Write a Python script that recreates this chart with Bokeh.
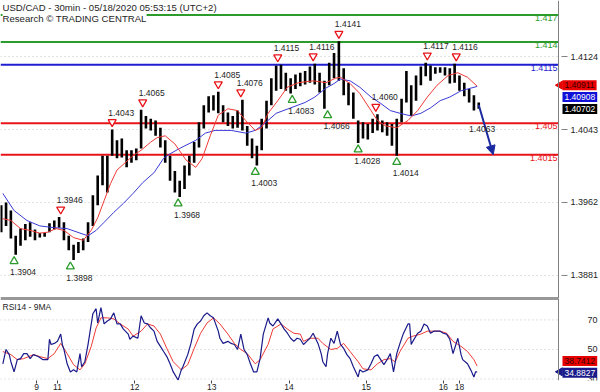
from bokeh.plotting import figure
from bokeh.layouts import column
from bokeh.models import Range1d, FixedTicker, Span, Label, Arrow, NormalHead
from bokeh.core.properties import value
from bokeh.embed import file_html
from bokeh.resources import INLINE

# ---------------- data ----------------
title_1 = "USD/CAD - 30min - 05/18/2020 05:53:15 (UTC+2)"
title_2 = "Research \u00a9 TRADING CENTRAL"
rsi_title = "RSI14 - 9MA"

# 30-min bars; bar 0 = Mon 11 May 00:00. Candles sampled every 3 bars from bar -35
first_bar = -35
bar_step = 3
high = [1.3959, 1.3962, 1.3953, 1.3925, 1.3933, 1.3938, 1.3940, 1.3932, 1.3928, 1.3928,
        1.3939, 1.3942, 1.3946, 1.3940, 1.3925, 1.3915, 1.3918, 1.3922, 1.3940, 1.3970,
        1.3992, 1.4014, 1.4014, 1.4043, 1.4031, 1.4033, 1.4020, 1.4020, 1.4022, 1.4065,
        1.4058, 1.4055, 1.4053, 1.4045, 1.4031, 1.4014, 1.3997, 1.3986, 1.4003, 1.4014,
        1.4029, 1.4051, 1.4070, 1.4080, 1.4081, 1.4085, 1.4070, 1.4062, 1.4058, 1.4064,
        1.4076, 1.4047, 1.4033, 1.4025, 1.4055, 1.4075, 1.4100, 1.4114, 1.4115, 1.4106,
        1.4100, 1.4104, 1.4106, 1.4108, 1.4113, 1.4116, 1.4106, 1.4097, 1.4117, 1.4128,
        1.4141, 1.4111, 1.4095, 1.4084, 1.4053, 1.4051, 1.4049, 1.4055, 1.4060, 1.4053,
        1.4051, 1.4049, 1.4055, 1.4077, 1.4108, 1.4092, 1.4103, 1.4113, 1.4117, 1.4114,
        1.4112, 1.4112, 1.4112, 1.4111, 1.4116, 1.4103, 1.4095, 1.4088, 1.4081, 1.4073]
low = [1.3929, 1.3936, 1.3922, 1.3904, 1.3914, 1.3920, 1.3924, 1.3920, 1.3923, 1.3924,
       1.3929, 1.3932, 1.3934, 1.3920, 1.3909, 1.3898, 1.3906, 1.3909, 1.3918, 1.3936,
       1.3959, 1.3981, 1.3973, 1.4014, 1.4011, 1.4012, 1.4001, 1.4006, 1.4009, 1.4022,
       1.4044, 1.4042, 1.4036, 1.4023, 1.4006, 1.3986, 1.3973, 1.3968, 1.3977, 1.3992,
       1.4006, 1.4023, 1.4044, 1.4062, 1.4064, 1.4061, 1.4051, 1.4047, 1.4044, 1.4045,
       1.4042, 1.4025, 1.4011, 1.4003, 1.4020, 1.4044, 1.4070, 1.4086, 1.4088, 1.4086,
       1.4083, 1.4088, 1.4091, 1.4093, 1.4095, 1.4093, 1.4084, 1.4066, 1.4092, 1.4100,
       1.4097, 1.4081, 1.4070, 1.4055, 1.4028, 1.4033, 1.4032, 1.4039, 1.4042, 1.4040,
       1.4036, 1.4025, 1.4014, 1.4051, 1.4073, 1.4058, 1.4075, 1.4092, 1.4102, 1.4097,
       1.4105, 1.4106, 1.4103, 1.4094, 1.4095, 1.4086, 1.4080, 1.4073, 1.4064, 1.4066]
last_close = 1.40702

red_ma_bar = [-34, -29, -23, -17, -11, -6, -1, 4, 10, 16,
              21, 25, 29, 33, 37, 42, 47, 52, 58, 62,
              67, 73, 80, 86, 90, 95, 100, 106, 112, 117,
              123, 127, 131, 137, 143, 150, 159, 167, 173, 176,
              182, 188, 195, 199, 204, 211, 218, 224, 230, 236,
              243, 249, 255, 261]
red_ma = [1.3944, 1.3942, 1.3933, 1.3931, 1.3928, 1.3929, 1.3933, 1.3931, 1.3923, 1.3920,
          1.3931, 1.3945, 1.3964, 1.3983, 1.3998, 1.4006, 1.4014, 1.4020, 1.4029, 1.4034,
          1.4036, 1.4027, 1.4009, 1.4001, 1.4011, 1.4036, 1.4059, 1.4066, 1.4064, 1.4053,
          1.4042, 1.4045, 1.4061, 1.4075, 1.4090, 1.4095, 1.4097, 1.4095, 1.4100, 1.4101,
          1.4094, 1.4083, 1.4064, 1.4053, 1.4047, 1.4045, 1.4053, 1.4064, 1.4079, 1.4092,
          1.4103, 1.4106, 1.4101, 1.40911]
blue_ma_bar = [-34, -27, -19, -11, -2, 6, 14, 19, 24, 29,
               35, 41, 47, 53, 60, 66, 70, 76, 86, 92,
               98, 108, 117, 123, 129, 136, 145, 154, 160, 167,
               172, 176, 182, 188, 195, 201, 207, 213, 220, 226,
               232, 238, 244, 251, 261]
blue_ma = [1.3972, 1.3953, 1.3942, 1.3936, 1.3934, 1.3933, 1.3928, 1.3925, 1.3931, 1.3940,
           1.3951, 1.3961, 1.3972, 1.3984, 1.3995, 1.4011, 1.4016, 1.4022, 1.4031, 1.4039,
           1.4042, 1.4042, 1.4039, 1.4042, 1.4050, 1.4061, 1.4067, 1.4073, 1.4079, 1.4089,
           1.4094, 1.4099, 1.4097, 1.4090, 1.4079, 1.4072, 1.4064, 1.4061, 1.4058, 1.4061,
           1.4067, 1.4075, 1.4079, 1.4086, 1.40908]

levels = [1.417, 1.414, 1.4115, 1.405, 1.4015]
level_kind = ["res", "res", "pivot", "sup", "sup"]

pivot_high_bar = [2, 34, 53, 100, 114, 137, 159, 175, 198, 230, 248]
pivot_high = [1.3946, 1.4043, 1.4065, 1.4085, 1.4076, 1.4115, 1.4116, 1.4141, 1.4060, 1.4117, 1.4116]
pivot_low_bar = [-27, 8, 75, 123, 146, 168, 187, 211]
pivot_low = [1.3904, 1.3898, 1.3968, 1.4003, 1.4083, 1.4066, 1.4028, 1.4014]

target_bar = 271
target_level = 1.4015
note_bar = 256
note_price = 1.4044
note_text = "1.4063"

rsi_bar = [-34, -32, -30, -29, -27, -25, -23, -21, -19, -17,
           -15, -12, -9, -6, -5, -4, -2, 0, 2, 3,
           4, 6, 8, 10, 12, 14, 15, 17, 19, 22,
           24, 25, 27, 29, 31, 33, 35, 37, 39, 41,
           44, 45, 47, 50, 52, 54, 56, 58, 60, 62,
           64, 66, 68, 70, 72, 75, 77, 78, 81, 83,
           85, 87, 89, 91, 93, 95, 97, 100, 101, 103,
           106, 108, 110, 112, 114, 116, 118, 120, 122, 124,
           126, 128, 131, 132, 134, 137, 139, 141, 143, 145,
           147, 149, 151, 153, 155, 157, 159, 162, 164, 165,
           167, 168, 170, 172, 174, 176, 178, 180, 182, 184,
           187, 188, 190, 193, 195, 197, 199, 201, 203, 205,
           207, 209, 211, 213, 215, 218, 219, 220, 221, 224,
           226, 228, 230, 232, 234, 236, 238, 240, 242, 244,
           246, 249, 251, 252, 255, 257, 259, 260, 261]
rsi = [40.3, 50, 46.5, 41.7, 34.8, 43.1, 43.8, 47.2, 47.2, 43.8,
       46.5, 45.2, 43.1, 43.1, 56.9, 53.4, 54.1, 55.5, 60.4, 53.4,
       50, 40.3, 34.8, 36.2, 34.8, 47.2, 38.3, 41.7, 53.4, 74.2,
       77.6, 67.9, 78.3, 67.3, 69.3, 70.7, 74.8, 67.3, 67.3, 63.8,
       60.4, 56.9, 59, 57.6, 72.8, 67.9, 67.3, 64.5, 62.4, 55.5,
       52.1, 48.6, 45.2, 40.3, 34.8, 29.3, 36.2, 38.3, 46.5, 54.1,
       63.8, 67.3, 69.3, 72.8, 74.8, 72.8, 71.4, 62.4, 57.6, 54.1,
       55.5, 54.1, 53.4, 50, 60.4, 50, 46.5, 40.3, 34.8, 34.8,
       43.8, 60.4, 71.4, 67.9, 65.9, 70.7, 67.3, 63.8, 61, 57.6,
       55.5, 57.6, 56.9, 53.4, 55.5, 57.6, 61, 54.1, 47.2, 41.7,
       38.3, 47.2, 57.6, 54.1, 62.4, 53.4, 50.7, 46.5, 43.8, 38.3,
       31.4, 36.2, 34.8, 36.2, 40.3, 45.2, 46.5, 43.1, 39.7, 43.1,
       47.2, 34.8, 47.2, 54.1, 60.4, 67.3, 67.3, 53.4, 55.5, 61,
       62.4, 67.3, 65.9, 61, 62.4, 62.4, 62.4, 61, 60.4, 56.9,
       47.2, 57.6, 46.5, 43.1, 40.3, 36.2, 31.4, 34.8, 34.8827]
rsi_ma_bar = [-34, -29, -25, -21, -15, -11, -6, -2, 2, 6,
              10, 14, 17, 21, 24, 27, 31, 35, 39, 44,
              47, 52, 56, 60, 64, 68, 72, 77, 81, 85,
              89, 93, 97, 101, 106, 110, 114, 118, 123, 126,
              131, 134, 139, 143, 147, 151, 153, 157, 162, 165,
              170, 174, 178, 182, 187, 190, 195, 199, 203, 207,
              210, 213, 218, 221, 226, 230, 234, 238, 242, 246,
              251, 255, 259, 261]
rsi_ma = [48.6, 46.5, 43.1, 43.8, 46.5, 45.2, 43.8, 47.2, 54.1, 47.2,
          39.7, 36.2, 40.3, 52.1, 64.5, 71.4, 71.4, 70.7, 67.3, 63.8,
          59, 62.4, 67.3, 65.9, 60.4, 50.7, 41.7, 36.2, 39.7, 50.7,
          61, 67.9, 71.4, 67.3, 60.4, 54.1, 50, 47.2, 40.3, 43.1,
          53.4, 63.8, 67.3, 63.8, 61, 60.4, 55.5, 57.6, 57.6, 54.1,
          50, 50.7, 54.1, 48.6, 41.7, 36.9, 36.2, 40.3, 43.1, 43.8,
          41.7, 48.6, 57.6, 59, 60.4, 62.4, 62.4, 62.4, 61, 55.5,
          52.1, 48.6, 43.1, 38.7412]

price_ticks = [1.3881, 1.3962, 1.4043, 1.4124]
rsi_ticks = [30, 50, 70]
day_bars = [-13, 0, 48, 96, 144, 192, 240, 250]
day_labels = ["9", "11", "12", "13", "14", "15", "16", "18"]

# ---------------- style / layout ----------------
FONT = "Liberation Sans"
FS = "8.5px"
FS_AX = "9px"
TXT = "#1e1e1e"
GREEN = "#2b9b2b"
BLUE_LVL = "#1f1fd0"
RED_LVL = "#e8141a"
RED_MA = "#ef3a35"
BLUE_MA = "#3a3ad6"
RSI_BLUE = "#1a1a8a"
ARROW_C = "#1c2aa0"
AXIS_C = "#808080"
TAG_RED = "#e60000"
kind_color = {"res": GREEN, "pivot": BLUE_LVL, "sup": RED_LVL}

W = 600
MAIN_H = 298
RSI_H = 94
PLOT_W = 558                      # chart area left of the price scale
x_start, x_axis = -35.45, 311.6   # bars spanned by the chart area
bpx = (x_axis - x_start) / PLOT_W
x_end = x_start + W * bpx         # frame also covers the price-scale strip
p_bot, p_top = 1.38554, 1.41862
r_bot, r_top = 29.0, 84.5

bars = [first_bar + bar_step * k for k in range(len(high))]
ppx = (p_top - p_bot) / MAIN_H


def txt(size=FS, **kw):
    base = dict(text_font=value(FONT), text_font_size=value(size), text_color=TXT)
    base.update(kw)
    return base


# ---------------- main panel ----------------
p = figure(width=W, height=MAIN_H, output_backend="svg", toolbar_location=None,
           x_range=Range1d(x_start, x_end), y_range=Range1d(p_bot, p_top),
           x_axis_location=None, y_axis_location=None,
           min_border_left=0, min_border_right=0, min_border_top=0, min_border_bottom=0)
p.outline_line_color = None
p.grid.visible = False

# price scale: dotted grid, axis line, ticks and labels
n_pt = len(price_ticks)
p.segment(x0=[x_start] * n_pt, y0=price_ticks, x1=[x_axis] * n_pt, y1=price_ticks,
          line_color="#c4c4c4", line_dash="1 3", line_width=1)
p.add_layout(Span(location=x_axis, dimension="height", line_color=AXIS_C, line_width=1))
p.scatter(x=[x_axis + 6 * bpx] * n_pt, y=price_ticks, marker="dash", size=6,
          line_color=AXIS_C)
p.text(x=[x_axis] * n_pt, y=price_ticks, text=[f"{t:.4f}" for t in price_ticks],
       x_offset=12, text_align="left", text_baseline="middle", **txt(FS_AX))

# key levels
n_lv = len(levels)
lv_colors = [kind_color[k] for k in level_kind]
p.segment(x0=[x_start] * n_lv, y0=levels, x1=[x_axis] * n_lv, y1=levels,
          line_color=lv_colors, line_width=2)
for lvl, c in zip(levels, lv_colors):
    p.add_layout(Label(x=x_axis, y=lvl, x_offset=-1, y_offset=0, text=str(lvl),
                       text_align="right", text_baseline="top", text_color=c,
                       text_font=FONT, text_font_size=FS_AX))

# candles and moving averages
p.segment(x0=bars, y0=low, x1=bars, y1=high, line_color="black", line_width=2.6)
p.line(blue_ma_bar, blue_ma, line_color=BLUE_MA, line_width=1)
p.line(red_ma_bar, red_ma, line_color=RED_MA, line_width=1)

# swing highs / lows
p.scatter(x=pivot_high_bar, y=[v + 7.5 * ppx for v in pivot_high], marker="inverted_triangle",
          size=8, fill_color="white", line_color=RED_LVL, line_width=1.3)
p.text(x=pivot_high_bar, y=pivot_high, text=[f"{v:.4f}" for v in pivot_high],
       x_offset=-4, y_offset=-17, text_align="left", text_baseline="middle", **txt())
p.scatter(x=pivot_low_bar, y=[v - 6.5 * ppx for v in pivot_low], marker="triangle",
          size=8, fill_color="white", line_color=GREEN, line_width=1.3)
p.text(x=pivot_low_bar, y=pivot_low, text=[f"{v:.4f}" for v in pivot_low],
       x_offset=-4, y_offset=17.5, text_align="left", text_baseline="middle", **txt())

# projection arrow
p.add_layout(Arrow(end=NormalHead(size=9, fill_color=ARROW_C, line_color=ARROW_C),
                   x_start=bars[-1], y_start=last_close, x_end=target_bar, y_end=target_level,
                   line_color=ARROW_C, line_width=2))
p.add_layout(Label(x=note_bar, y=note_price, text=note_text, text_align="left",
                   text_baseline="middle", text_font=FONT, text_font_size=FS, text_color=TXT))

# header
p.add_layout(Label(x=x_start, y=p_top, x_offset=2, y_offset=-1, text=title_1,
                   text_baseline="top", text_font=FONT, text_font_size="9.6px", text_color=TXT,
                   background_fill_color="white"))
p.add_layout(Label(x=x_start, y=p_top, x_offset=2, y_offset=-12, text=title_2,
                   text_baseline="top", text_font=FONT, text_font_size="9.6px", text_color=TXT,
                   background_fill_color="white"))

# last-value tags on the price scale
for val, off, bg, fg in [(red_ma[-1], 1, TAG_RED, "#3a0000"),
                         (blue_ma[-1], -10.5, "#1010d8", "white"),
                         (last_close, -4, "black", "white")]:
    p.add_layout(Label(x=x_axis, y=val, x_offset=4, y_offset=off, text=f"{val:.5f}",
                       text_align="left", text_baseline="middle", text_font=FONT,
                       text_font_size=FS, text_color=fg, background_fill_color=bg,
                       padding=2))
p.scatter(x=[x_axis + 1.5 * bpx], y=[red_ma[-1] + 1 * ppx], marker="triangle", angle=1.5708,
          size=8, fill_color=TAG_RED, line_color=TAG_RED)

# panel separator
p.segment(x0=[x_start], y0=[p_bot], x1=[x_axis], y1=[p_bot], line_color="#333333", line_width=2)

# ---------------- RSI panel ----------------
r = figure(width=W, height=RSI_H, output_backend="svg", toolbar_location=None,
           x_range=p.x_range, y_range=Range1d(r_bot, r_top), y_axis_location=None,
           min_border_left=0, min_border_right=0, min_border_top=0, min_border_bottom=0)
r.outline_line_color = None
r.grid.visible = False

n_rt = len(rsi_ticks)
r.segment(x0=[x_start] * n_rt, y0=rsi_ticks, x1=[x_axis] * n_rt, y1=rsi_ticks,
          line_color="#c4c4c4", line_dash="1 3", line_width=1)
r.add_layout(Span(location=x_axis, dimension="height", line_color=AXIS_C, line_width=1))
r.text(x=[x_axis] * n_rt, y=rsi_ticks, text=[str(t) for t in rsi_ticks],
       x_offset=29, text_align="left", text_baseline="middle", **txt(FS_AX))

r.xaxis.ticker = FixedTicker(ticks=day_bars)
r.xaxis.major_label_overrides = {b: t for b, t in zip(day_bars, day_labels)}
r.xaxis.axis_line_color = None
r.xaxis.major_tick_in = 0
r.xaxis.major_tick_out = 3
r.xaxis.minor_tick_in = 0
r.xaxis.minor_tick_out = 0
r.xaxis.minor_tick_line_color = None
r.xaxis.major_tick_line_color = "#444444"
r.xaxis.major_label_standoff = 0
r.xaxis.major_label_text_align = "left"
r.xaxis.major_label_text_font = FONT
r.xaxis.major_label_text_font_size = "8.5px"
r.xaxis.major_label_text_color = TXT

r.line(rsi_ma_bar, rsi_ma, line_color=RED_MA, line_width=1)
r.line(rsi_bar, rsi, line_color=RSI_BLUE, line_width=1.2)

r.segment(x0=[x_start], y0=[r_top], x1=[x_axis], y1=[r_top], line_color="#333333", line_width=2)
r.add_layout(Label(x=x_start, y=r_top, x_offset=2, y_offset=-3, text=rsi_title,
                   text_baseline="top", text_font=FONT, text_font_size="8.5px", text_color=TXT))
for val, off, bg, fg in [(rsi_ma[-1], 5, TAG_RED, "#3a0000"),
                         (rsi[-1], -1, RSI_BLUE, "white")]:
    r.add_layout(Label(x=x_axis, y=val, x_offset=4, y_offset=off,
                       text=f"{val:.4f}", text_align="left", text_baseline="middle",
                       text_font=FONT, text_font_size=FS, text_color=fg,
                       background_fill_color=bg, padding=2))
r.scatter(x=[x_axis + 1.5 * bpx], y=[rsi[-1]], marker="triangle", angle=1.5708,
          size=8, fill_color=RSI_BLUE, line_color=RSI_BLUE)

layout = column(p, r)
open("out.html", "w").write(file_html(layout, INLINE))
